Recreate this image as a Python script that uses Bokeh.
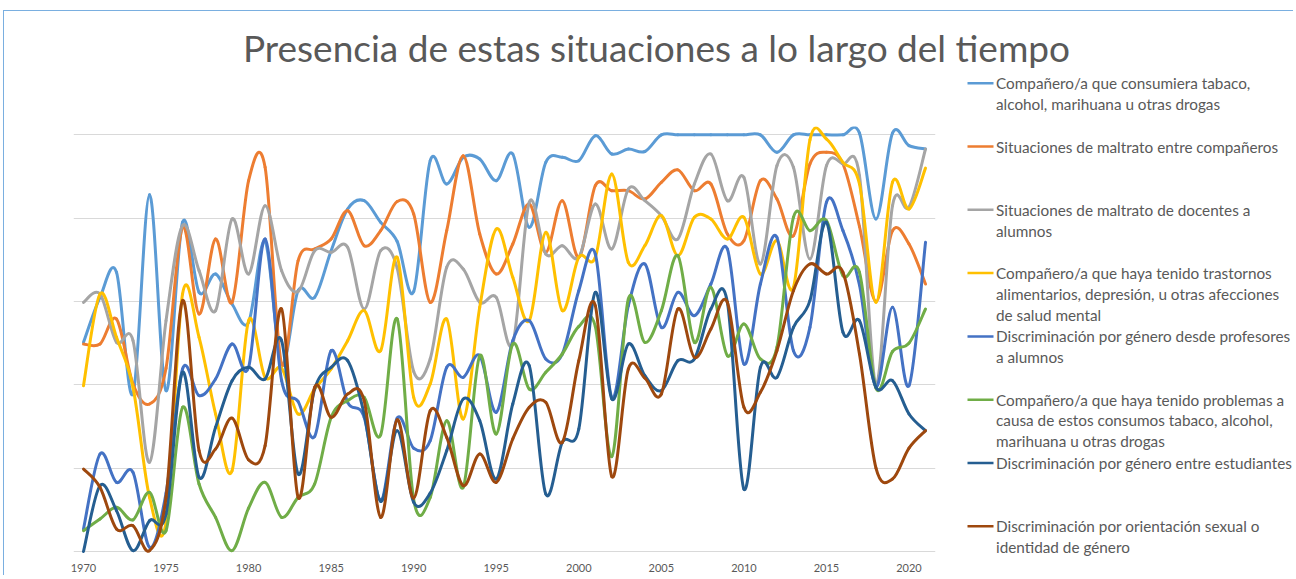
from bokeh.plotting import figure
from bokeh.layouts import row, column
from bokeh.models import Range1d, FixedTicker, ColumnDataSource
from bokeh.core.properties import value
from bokeh.embed import file_html
from bokeh.resources import INLINE

years = list(range(1970, 2022))
tick_years = [1970, 1975, 1980, 1985, 1990, 1995, 2000, 2005, 2010, 2015, 2020]

title_text = "Presencia de estas situaciones a lo largo del tiempo"

tabaco = [2.51, 3.05, 3.35, 1.89, 4.28, 1.93, 3.95, 3.11, 3.33, 2.97,
          2.75, 3.72, 2.25, 3.13, 3.05, 3.61, 4.11, 4.21, 3.95, 3.72,
          3.12, 4.69, 4.41, 4.73, 4.71, 4.45, 4.77, 3.89, 4.67, 4.73,
          4.69, 4.99, 4.77, 4.83, 4.80, 5.0, 5.0, 5.0, 5.0, 5.0,
          5.0, 5.0, 4.79, 5.0, 5.0, 5.0, 5.0, 5.02, 3.99, 5.02,
          4.87, 4.83]
maltrato_comp = [2.49, 2.49, 2.79, 2.01, 1.77, 2.2, 3.89, 2.85, 3.75, 2.99,
                 4.45, 4.61, 2.25, 3.49, 3.63, 3.75, 4.09, 3.67, 3.85, 4.2,
                 4.05, 2.99, 3.85, 4.75, 3.81, 3.33, 3.69, 4.17, 3.59, 4.21,
                 3.53, 4.39, 4.33, 4.33, 4.23, 4.43, 4.58, 4.33, 4.41, 3.81,
                 3.73, 4.45, 4.23, 3.79, 4.65, 4.79, 4.65, 3.9, 3.0, 3.85,
                 3.69, 3.21]
maltrato_doc = [2.99, 3.09, 2.51, 2.53, 1.07, 2.77, 3.91, 3.37, 2.89, 3.99,
                3.33, 4.15, 3.37, 3.12, 3.61, 3.59, 3.65, 2.91, 3.61, 3.4,
                2.16, 2.31, 3.41, 3.39, 2.99, 3.05, 2.49, 4.19, 3.57, 3.67,
                3.53, 4.17, 3.63, 4.35, 4.21, 4.03, 3.75, 4.41, 4.77, 4.21,
                4.49, 3.45, 4.63, 4.61, 3.51, 4.63, 4.65, 4.51, 2.01, 4.15,
                4.13, 4.83]
trastornos = [1.99, 3.09, 2.57, 1.97, 0.65, 0.35, 3.09, 2.57, 1.65, 0.97,
              2.77, 2.09, 2.2, 1.65, 1.95, 2.19, 2.53, 2.89, 2.41, 3.53,
              1.85, 2.01, 2.79, 1.59, 2.93, 3.87, 3.29, 2.77, 3.83, 2.89,
              3.53, 3.53, 4.53, 3.47, 3.67, 4.03, 3.55, 4.01, 3.99, 3.75,
              4.01, 3.33, 3.73, 3.17, 4.94, 4.95, 4.67, 4.41, 2.99, 4.43,
              4.11, 4.6]
genero_prof = [0.27, 1.17, 0.83, 0.95, 0.05, 0.7, 2.19, 1.87, 2.07, 2.49,
               2.21, 3.75, 2.05, 1.8, 1.38, 2.41, 1.79, 1.61, 0.62, 1.6,
               1.24, 1.33, 2.21, 2.09, 2.35, 1.67, 2.53, 2.77, 2.31, 2.37,
               3.13, 3.57, 1.85, 2.95, 3.45, 2.69, 3.11, 2.83, 3.21, 3.63,
               2.25, 3.21, 3.77, 2.41, 2.69, 4.19, 3.85, 3.2, 1.98, 2.93,
               1.99, 3.71]
problemas = [0.25, 0.39, 0.53, 0.38, 0.71, 0.25, 1.73, 0.81, 0.41, 0.01,
             0.52, 0.83, 0.41, 0.65, 0.81, 1.61, 1.81, 1.85, 1.4, 2.79,
             0.62, 0.65, 1.57, 0.77, 2.35, 1.41, 2.49, 1.95, 2.15, 2.37,
             2.7, 2.7, 1.14, 3.03, 2.51, 2.89, 3.55, 2.51, 3.17, 2.35,
             2.73, 2.31, 2.45, 4.01, 3.85, 3.97, 3.31, 3.35, 1.96, 2.4,
             2.5, 2.91]
genero_est = [0.0, 0.79, 0.49, 0.01, 0.37, 0.45, 2.15, 0.89, 1.49, 2.05,
              2.21, 2.07, 2.53, 0.93, 1.95, 2.21, 2.29, 1.65, 0.6, 1.45,
              0.59, 0.7, 1.21, 1.83, 1.57, 0.87, 1.77, 2.23, 0.69, 1.31,
              1.47, 3.11, 1.83, 2.49, 2.11, 1.93, 2.29, 2.31, 2.91, 2.99,
              0.75, 2.21, 2.09, 2.69, 3.01, 3.95, 2.63, 2.77, 1.97, 2.05,
              1.65, 1.45]
orientacion = [0.99, 0.77, 0.27, 0.31, 0.01, 0.65, 3.01, 1.21, 1.23, 1.6,
               1.1, 1.27, 2.91, 0.65, 1.97, 1.61, 1.89, 1.81, 0.41, 1.58,
               0.64, 1.69, 1.37, 0.79, 1.17, 0.83, 1.35, 1.73, 1.79, 1.31,
               2.29, 2.95, 0.9, 2.19, 2.08, 1.89, 2.91, 2.33, 2.67, 2.99,
               1.73, 1.91, 2.41, 3.13, 3.45, 3.33, 3.35, 2.37, 1.0, 0.87,
               1.24, 1.45]

series_names = [
    "Compañero/a que consumiera tabaco,\nalcohol, marihuana u otras drogas",
    "Situaciones de maltrato entre compañeros",
    "Situaciones de maltrato de docentes a\nalumnos",
    "Compañero/a que haya tenido trastornos\nalimentarios, depresión, u otras afecciones\nde salud mental",
    "Discriminación por género desde profesores\na alumnos",
    "Compañero/a que haya tenido problemas a\ncausa de estos consumos tabaco, alcohol,\nmarihuana u otras drogas",
    "Discriminación por género entre estudiantes",
    "Discriminación por orientación sexual o\nidentidad de género",
]
series_values = [tabaco, maltrato_comp, maltrato_doc, trastornos,
                 genero_prof, problemas, genero_est, orientacion]
colors = ["#5B9BD5", "#ED7D31", "#A5A5A5", "#FFC000",
          "#4472C4", "#70AD47", "#255E91", "#9E480E"]

FONT = "Lato"
TEXT_COLOR = "#595959"


def smooth_segments(xs, ys):
    """Bezier segments between consecutive data points (Excel-like smoothing)."""
    n = len(xs)
    d = dict(x0=[], y0=[], x1=[], y1=[], cx0=[], cy0=[], cx1=[], cy1=[])
    for i in range(n - 1):
        xa, ya = (xs[i - 1], ys[i - 1]) if i > 0 else (xs[i], ys[i])
        xb, yb = xs[i], ys[i]
        xc, yc = xs[i + 1], ys[i + 1]
        xd, yd = (xs[i + 2], ys[i + 2]) if i + 2 < n else (xs[i + 1], ys[i + 1])
        d["x0"].append(xb); d["y0"].append(yb)
        d["x1"].append(xc); d["y1"].append(yc)
        d["cx0"].append(xb + (xc - xa) / 6.0); d["cy0"].append(yb + (yc - ya) / 6.0)
        d["cx1"].append(xc - (xd - xb) / 6.0); d["cy1"].append(yc - (yd - yb) / 6.0)
    return ColumnDataSource(d)


# page geometry: border at x=3, y=10; inner origin (4, 11)
# ---------------- title figure ----------------
tfig = figure(width=1289, height=59, x_range=Range1d(4, 1293), y_range=Range1d(70, 11),
              output_backend="svg", toolbar_location=None, min_border=0,
              x_axis_location=None, y_axis_location=None)
tfig.grid.visible = False
tfig.outline_line_color = None
tfig.frame_align = False
tfig.text(x=[656], y=[47], text=[title_text], text_font=value(FONT),
          text_font_size="37px", text_color=TEXT_COLOR,
          text_align="center", text_baseline="middle")

# ---------------- main chart ----------------
p = figure(width=951, height=505, x_range=Range1d(1969.395, 2021.605),
           y_range=Range1d(-0.024, 5.1), output_backend="svg", toolbar_location=None,
           min_border_left=69, min_border_right=20, min_border_top=56, min_border_bottom=22,
           y_axis_location=None)
p.frame_align = False
p.outline_line_color = None
p.xgrid.visible = False
p.ygrid.ticker = FixedTicker(ticks=[0, 1, 2, 3, 4, 5])
p.ygrid.grid_line_color = "#D9D9D9"
p.ygrid.grid_line_width = 1
p.xaxis.ticker = FixedTicker(ticks=tick_years)
p.xaxis.axis_line_color = None
p.xaxis.major_tick_line_color = None
p.xaxis.minor_tick_line_color = None
p.xaxis.major_label_standoff = 4
p.xaxis.major_label_text_font = FONT
p.xaxis.major_label_text_font_size = "11px"
p.xaxis.major_label_text_color = TEXT_COLOR

for vals, col in zip(series_values, colors):
    src = smooth_segments(years, vals)
    p.bezier(x0="x0", y0="y0", x1="x1", y1="y1", cx0="cx0", cy0="cy0",
             cx1="cx1", cy1="cy1", source=src, line_color=col, line_width=3,
             line_cap="round")

# ---------------- legend figure ----------------
leg = figure(width=338, height=505, x_range=Range1d(955, 1293), y_range=Range1d(575, 70),
             output_backend="svg", toolbar_location=None, min_border=0,
             x_axis_location=None, y_axis_location=None)
leg.frame_align = False
leg.grid.visible = False
leg.outline_line_color = None

entry_top = 82.7
entry_step = 63.3
line_step = 20.7
lx0, ly0, lx1, ly1, tx, ty, tt = [], [], [], [], [], [], []
for k, name in enumerate(series_names):
    yk = entry_top + k * entry_step
    lx0.append(967); lx1.append(993); ly0.append(yk); ly1.append(yk)
    for j, part in enumerate(name.split("\n")):
        tx.append(995.5); ty.append(yk + j * line_step); tt.append(part)
leg.segment(x0=lx0, y0=ly0, x1=lx1, y1=ly1, line_color=colors, line_width=2.5)
leg.text(x=tx, y=ty, text=tt, text_font=value(FONT), text_font_size="15.3px",
         text_color=TEXT_COLOR, text_align="left", text_baseline="middle")

layout = column(tfig, row(p, leg),
                styles={"margin-left": "3px", "margin-top": "10px",
                        "border-top": "1px solid #7AAFE0", "border-left": "1px solid #7AAFE0"})

open("out.html", "w").write(file_html(layout, INLINE))
